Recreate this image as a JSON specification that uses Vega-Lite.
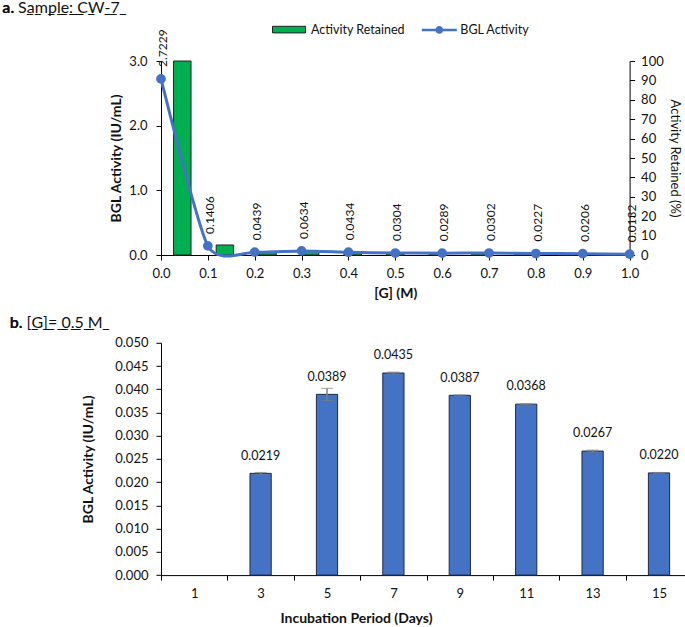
{
  "$schema": "https://vega.github.io/schema/vega-lite/v6.json",
  "background": "white",
  "padding": {"left": 2, "top": 0, "right": 0, "bottom": 0},
  "config": {
    "font": "Lato",
    "view": {"stroke": null},
    "axis": {"grid": false, "domainColor": "#000", "tickColor": "#000", "labelColor": "#111", "titleColor": "#111", "labelFontSize": 13, "titleFontSize": 14, "tickSize": 5, "domainWidth": 1, "tickWidth": 1, "labelFlush": false, "labelOverlap": false},
    "legend": {"labelColor": "#111", "labelFontSize": 12.5, "padding": 0},
    "title": {"color": "#111", "subtitleColor": "#111"}
  },
  "align": "none",
  "spacing": 14.8,
  "vconcat": [
    {
      "width": 468.6,
      "height": 194,
      "title": {"text": "a.", "subtitle": "a. S\u0332a\u0332m\u0332p\u0332l\u0332e\u0332:\u0332 \u0332C\u0332W\u0332-\u03327\u0332", "anchor": "start", "frame": "group", "dx": -158.7, "fontSize": 16, "fontWeight": "bold", "subtitleFontSize": 16, "subtitleFontWeight": "normal", "subtitlePadding": -16, "offset": 12.9},
      "data": {"values": [
        {"G": 0.0, "bgl": 2.7229, "retained": 100},
        {"G": 0.1, "bgl": 0.1406, "retained": 5.16},
        {"G": 0.2, "bgl": 0.0439, "retained": 1.61},
        {"G": 0.3, "bgl": 0.0634, "retained": 2.33},
        {"G": 0.4, "bgl": 0.0434, "retained": 1.59},
        {"G": 0.5, "bgl": 0.0304, "retained": 1.12},
        {"G": 0.6, "bgl": 0.0289, "retained": 1.06},
        {"G": 0.7, "bgl": 0.0302, "retained": 1.11},
        {"G": 0.8, "bgl": 0.0227, "retained": 0.83},
        {"G": 0.9, "bgl": 0.0206, "retained": 0.76},
        {"G": 1.0, "bgl": 0.0132, "retained": 0.48}
      ]},
      "layer": [
        {
          "mark": {"type": "bar", "stroke": "#222", "strokeWidth": 1},
          "encoding": {
            "x": {"field": "G", "type": "ordinal", "scale": {"paddingInner": 0.59, "paddingOuter": 0.295}, "axis": null},
            "y": {"field": "retained", "type": "quantitative", "scale": {"domain": [0, 100], "nice": false},
                  "axis": {"orient": "right", "title": "Activity Retained (%)", "values": [0,10,20,30,40,50,60,70,80,90,100], "labelPadding": 6, "titlePadding": 4, "titleFontWeight": "normal", "titleFontSize": 13}},
            "fill": {"datum": "Activity Retained", "scale": {"range": ["#00B050"]},
                     "legend": {"orient": "none", "legendX": 111, "legendY": -48.4, "title": null, "symbolType": "M-1,-0.2H1V0.2H-1Z", "symbolSize": 1089, "symbolStrokeColor": "#222", "symbolStrokeWidth": 1, "labelOffset": 5}}
          }
        },
        {
          "layer": [
            {
              "mark": {"type": "line", "interpolate": "cardinal", "tension": 0.35, "strokeWidth": 3, "point": {"filled": true, "fill": "#4472C4", "size": 60}},
              "encoding": {
                "x": {"field": "G", "type": "quantitative", "scale": {"domain": [0, 1], "nice": false},
                      "axis": {"values": [0,0.1,0.2,0.3,0.4,0.5,0.6,0.7,0.8,0.9,1], "format": ".1f", "title": "[G] (M)", "titleFontWeight": "bold", "labelPadding": 7, "titlePadding": 6}},
                "y": {"field": "bgl", "type": "quantitative", "scale": {"domain": [0, 3], "nice": false},
                      "axis": {"values": [0,0.5,1,1.5,2,2.5,3], "format": ".1f", "title": "BGL Activity (IU/mL)", "titleFontWeight": "bold", "labelPadding": 9, "titlePadding": 5}},
                "stroke": {"datum": "BGL Activity", "scale": {"range": ["#4472C4"]},
                           "legend": {"orient": "none", "legendX": 259.3, "legendY": -50.1, "title": null, "symbolType": "M-1,0H1M0.15,0A0.15,0.15,0,1,1,-0.15,0A0.15,0.15,0,1,1,0.15,0", "symbolSize": 1225, "symbolStrokeWidth": 2.5, "symbolFillColor": "#4472C4", "labelOffset": 2}}
              }
            },
            {
              "mark": {"type": "text", "angle": 270, "align": "left", "baseline": "middle", "dx": 12, "dy": 2, "fontSize": 12, "color": "#111"},
              "encoding": {
                "x": {"field": "G", "type": "quantitative"},
                "y": {"field": "bgl", "type": "quantitative"},
                "text": {"field": "bgl", "type": "quantitative", "format": ".4f"}
              }
            }
          ]
        }
      ],
      "resolve": {"scale": {"x": "independent", "y": "independent"}}
    },
    {
      "width": 531.2,
      "height": 232.3,
      "title": {"text": "b.", "subtitle": "b. [\u0332G\u0332]\u0332=\u0332 \u03320\u0332.\u03325\u0332 \u0332M\u0332", "anchor": "start", "frame": "group", "dx": -151.3, "fontSize": 16, "fontWeight": "bold", "subtitleFontSize": 16, "subtitleFontWeight": "normal", "subtitlePadding": -16, "offset": 5.7},
      "data": {"values": [
        {"day": 3, "act": 0.0219, "err": 0.0002},
        {"day": 5, "act": 0.0389, "err": 0.0013},
        {"day": 7, "act": 0.0435, "err": 0.0002},
        {"day": 9, "act": 0.0387, "err": 0.0001},
        {"day": 11, "act": 0.0368, "err": 0.0001},
        {"day": 13, "act": 0.0267, "err": 0.0002},
        {"day": 15, "act": 0.0220, "err": 0.0001}
      ]},
      "encoding": {
        "x": {"field": "day", "type": "ordinal", "scale": {"domain": [1,3,5,7,9,11,13,15], "paddingInner": 0, "paddingOuter": 0},
              "axis": {"title": "Incubation Period (Days)", "titleFontWeight": "bold", "labelAngle": 0, "tickBand": "extent", "labelPadding": 7, "titlePadding": 11, "titleX": 195}},
        "y": {"field": "act", "type": "quantitative", "title": "BGL Activity (IU/mL)", "scale": {"domain": [0, 0.05], "nice": false},
              "axis": {"values": [0,0.005,0.01,0.015,0.02,0.025,0.03,0.035,0.04,0.045,0.05], "format": ".3f", "titleFontWeight": "bold", "labelPadding": 8, "titlePadding": 19}}
      },
      "layer": [
        {
          "mark": {"type": "bar", "width": {"band": 0.32}, "fill": "#4472C4", "stroke": "#1f2a44", "strokeWidth": 1}
        },
        {
          "mark": {"type": "errorbar", "ticks": {"size": 12, "color": "#7f7f7f", "strokeWidth": 1.5}, "rule": {"color": "#7f7f7f", "strokeWidth": 1.5}},
          "encoding": {
            "yError": {"field": "err"}
          }
        },
        {
          "mark": {"type": "text", "baseline": "middle", "dy": -17.7, "fontSize": 12.5, "color": "#111"},
          "encoding": {
            "text": {"field": "act", "type": "quantitative", "format": ".4f"}
          }
        }
      ]
    }
  ]
}
